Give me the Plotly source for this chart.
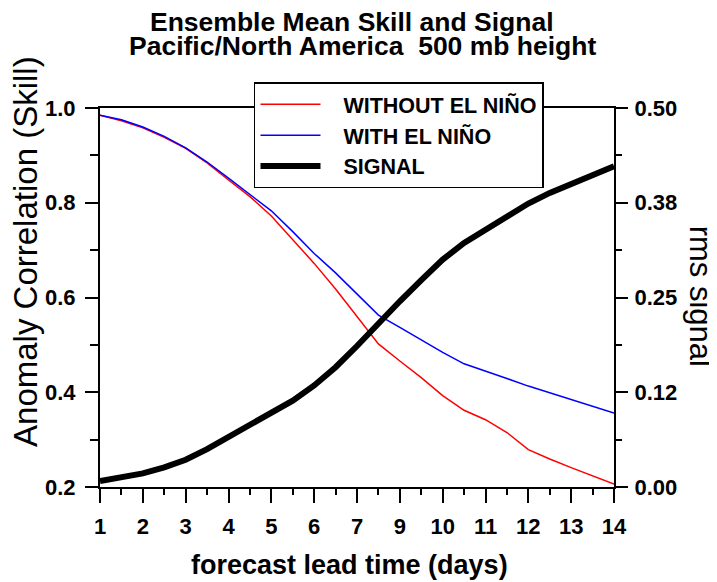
import plotly.graph_objects as go

# ---- data ----
x_labels = ["1", "2", "3", "4", "5", "6", "7", "9", "10", "11", "12", "13", "14"]
x_ticks = [0, 1, 2, 3, 4, 5, 6, 7, 8, 9, 10, 11, 12]
x_pos = [0, 0.5, 1, 1.5, 2, 2.5, 3, 3.5, 4, 4.5, 5, 5.5, 6, 6.5, 7, 7.5, 8,
         8.5, 9, 9.5, 10, 10.5, 11, 11.5, 12]

without_el_nino = [0.985, 0.973, 0.958, 0.938, 0.915, 0.884, 0.848, 0.813, 0.772,
                   0.722, 0.672, 0.618, 0.560, 0.502, 0.466, 0.431, 0.393, 0.362,
                   0.342, 0.315, 0.279, 0.259, 0.241, 0.224, 0.206]
with_el_nino = [0.985, 0.975, 0.960, 0.940, 0.916, 0.886, 0.852, 0.818, 0.783,
                0.739, 0.693, 0.652, 0.608, 0.563, 0.537, 0.511, 0.484, 0.460,
                0.445, 0.429, 0.413, 0.399, 0.385, 0.370, 0.356]
signal = [0.008, 0.012, 0.018, 0.026, 0.036, 0.050, 0.066, 0.081, 0.097, 0.114,
          0.134, 0.158, 0.186, 0.216, 0.245, 0.273, 0.300, 0.322, 0.340, 0.358,
          0.374, 0.388, 0.400, 0.412, 0.423]

left_ticks = [0.2, 0.4, 0.6, 0.8, 1.0]
right_ticks = [0.0, 0.125, 0.25, 0.375, 0.5]
right_labels = ["0.00", "0.12", "0.25", "0.38", "0.50"]

series_names = ["WITHOUT EL NIÑO", "WITH EL NIÑO", "SIGNAL"]

FONT = "Liberation Sans"
PAD = "\u00a0\u00a0\u00a0"

fig = go.Figure()
fig.add_trace(go.Scatter(x=x_pos, y=without_el_nino, mode="lines", name=PAD + series_names[0],
                         line=dict(color="#ff0000", width=1.5)))
fig.add_trace(go.Scatter(x=x_pos, y=with_el_nino, mode="lines", name=PAD + series_names[1],
                         line=dict(color="#0000ff", width=1.5)))
fig.add_trace(go.Scatter(x=x_pos, y=signal, mode="lines", name=PAD + series_names[2], yaxis="y2",
                         line=dict(color="#000000", width=6)))

tickfont = dict(family=FONT, size=22, color="black", weight="bold")

fig.update_layout(
    width=717, height=582,
    margin=dict(l=92, r=111, t=100, b=103),
    paper_bgcolor="white", plot_bgcolor="white",
    showlegend=True,
    legend=dict(x=0.2996, y=1.068, xanchor="left", yanchor="top",
                bgcolor="white", bordercolor="black", borderwidth=1.5,
                font=dict(family=FONT, size=21.5, color="black", weight="bold"),
                itemwidth=60, tracegroupgap=0),
    xaxis=dict(range=[0, 12], tickmode="array", tickvals=x_ticks, ticktext=x_labels,
               ticks="outside", ticklen=14, tickwidth=2, tickcolor="black",
               showline=True, linewidth=2, linecolor="black", mirror=True,
               showgrid=False, zeroline=False, tickfont=tickfont,
               ticklabelstandoff=5,
               minor=dict(tickmode="array", tickvals=[v + 0.5 for v in x_ticks[:-1]],
                          ticks="outside", ticklen=6, tickwidth=2, tickcolor="black")),
    yaxis=dict(range=[0.2, 1.0], tickmode="array", tickvals=left_ticks,
               ticktext=[f"{v:.1f}" for v in left_ticks],
               ticks="outside", ticklen=13, tickwidth=2, tickcolor="black",
               showline=True, linewidth=2, linecolor="black",
               showgrid=False, zeroline=False, tickfont=tickfont,
               ticklabelstandoff=5,
               minor=dict(dtick=0.1, tick0=0.2, ticks="outside", ticklen=8,
                          tickwidth=2, tickcolor="black")),
    yaxis2=dict(range=[0, 0.5], overlaying="y", side="right", tickmode="array",
                tickvals=right_ticks, ticktext=right_labels,
                ticks="outside", ticklen=12, tickwidth=2, tickcolor="black",
                showline=True, linewidth=2, linecolor="black",
                showgrid=False, zeroline=False, tickfont=tickfont,
                ticklabelstandoff=2,
                minor=dict(dtick=0.0625, tick0=0, ticks="outside", ticklen=6,
                           tickwidth=2, tickcolor="black")),
    annotations=[
        dict(text="Ensemble Mean Skill and Signal", xref="paper", yref="paper",
             x=0.49, y=1.228, xanchor="center", yanchor="middle", showarrow=False,
             borderpad=0,
             font=dict(family=FONT, size=26.5, color="black", weight="bold")),
        dict(text="Pacific/North America \u00a0500 mb height", xref="paper", yref="paper",
             x=0.51, y=1.1636, xanchor="center", yanchor="middle", showarrow=False,
             borderpad=0,
             font=dict(family=FONT, size=26.5, color="black", weight="bold")),
        dict(text="forecast lead time (days)", xref="paper", yref="paper",
             x=0.486, y=-0.2058, xanchor="center", yanchor="middle", showarrow=False,
             borderpad=0,
             font=dict(family=FONT, size=27, color="black", weight="bold")),
        dict(text="Anomaly Correlation (Skill)", xref="paper", yref="paper",
             x=-0.144, y=0.6227, xanchor="center", yanchor="middle", showarrow=False,
             borderpad=0,
             textangle=-90, font=dict(family=FONT, size=33, color="black")),
        dict(text="rms signal", xref="paper", yref="paper",
             x=1.168, y=0.504, xanchor="center", yanchor="middle", showarrow=False,
             borderpad=0,
             textangle=90, font=dict(family=FONT, size=31, color="black")),
    ],
)

fig.write_html("out.html")
